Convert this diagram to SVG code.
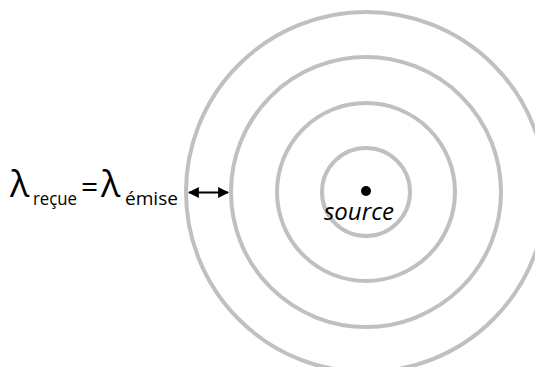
<svg xmlns="http://www.w3.org/2000/svg" width="535" height="367" viewBox="0 0 535 367">
<style>
.wave{fill:none;stroke:#c0c0c3;stroke-width:4}
.t{font-family:"Open Sans","Liberation Sans",sans-serif;fill:#000}
.big{font-size:36px}
.eq{font-size:30px}
.sub{font-size:18px}
</style>
<defs>
<marker id="ah" viewBox="0 0 10 10" refX="9" refY="5" markerWidth="11" markerHeight="11" markerUnits="userSpaceOnUse" orient="auto-start-reverse">
<path d="M0,0 L10,5 L0,10 z" fill="#000"/>
</marker>
</defs>
<g id="waves">
<circle class="wave" cx="366" cy="192" r="44"/>
<circle class="wave" cx="366" cy="192" r="89"/>
<circle class="wave" cx="366" cy="192" r="135"/>
<circle class="wave" cx="366" cy="192" r="180"/>
</g>
<g id="source">
<circle cx="366" cy="191" r="5" fill="#000"/>
<text class="t" x="359" y="220" font-size="24" font-style="italic" text-anchor="middle">source</text>
</g>
<g id="connectors">
<line x1="189" y1="192.5" x2="228" y2="192.5" stroke="#000" stroke-width="1.8" marker-start="url(#ah)" marker-end="url(#ah)"/>
</g>
<g id="label">
<text class="t big" x="10" y="197">λ</text>
<text class="t sub" x="33" y="205" textLength="44" lengthAdjust="spacingAndGlyphs">reçue</text>
<text class="t eq" x="81" y="197">=</text>
<text class="t big" x="101" y="197">λ</text>
<text class="t sub" x="125" y="205" textLength="53" lengthAdjust="spacingAndGlyphs">émise</text>
</g>
</svg>
